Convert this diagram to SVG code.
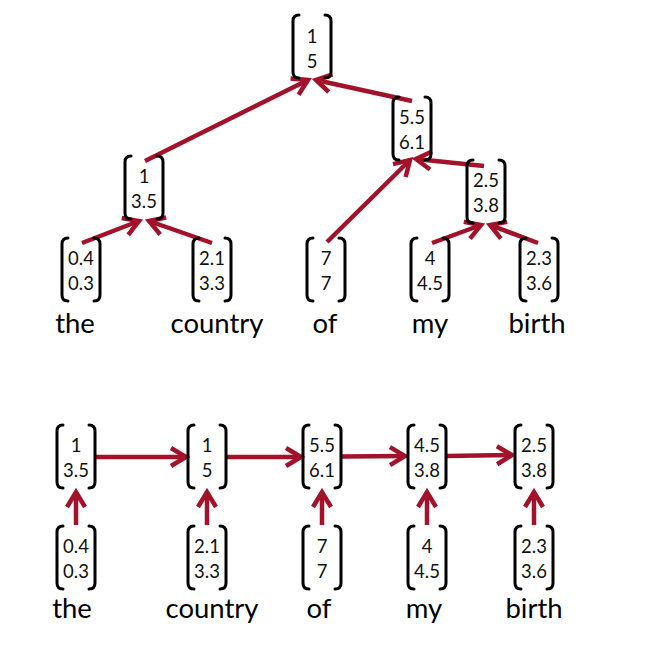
<svg xmlns="http://www.w3.org/2000/svg" xmlns:xlink="http://www.w3.org/1999/xlink" width="653" height="647" viewBox="0 0 653 647">
<style>
.br{fill:none;stroke:#000;stroke-width:3;stroke-linecap:round;stroke-linejoin:round}
.num{font-family:Lato,"Liberation Sans",sans-serif;font-size:18.5px;fill:#111;text-anchor:middle}
.word{font-family:Lato,"Liberation Sans",sans-serif;font-size:27.5px;fill:#000;text-anchor:middle}
.ar{stroke:#A3122B;stroke-width:4.5;fill:none;marker-end:url(#ah)}
</style>
<defs>
<marker id="ah" markerUnits="userSpaceOnUse" viewBox="-20 -14 24 28" markerWidth="24" markerHeight="28" refX="0" refY="0" orient="auto" overflow="visible">
<path d="M -15 -9 L 0 0 L -15 9" fill="none" stroke="#A3122B" stroke-width="4.5" stroke-linecap="butt" stroke-linejoin="miter"/>
</marker>
<path id="vec" class="br" d="M -13 0 Q -19 0 -19 6 L -19 57 Q -19 63 -13 63 M 13 0 Q 19 0 19 6 L 19 57 Q 19 63 13 63"/>
</defs>
<rect width="653" height="647" fill="#fff"/>
<g id="connectors">
<line class="ar" x1="82" y1="243" x2="139" y2="221"/>
<line class="ar" x1="212" y1="243" x2="149" y2="221"/>
<line class="ar" x1="145" y1="161" x2="308" y2="80"/>
<line class="ar" x1="412" y1="101" x2="316" y2="80"/>
<line class="ar" x1="484" y1="166" x2="416" y2="159"/>
<line class="ar" x1="327" y1="242" x2="410" y2="160"/>
<line class="ar" x1="432" y1="243" x2="481" y2="225"/>
<line class="ar" x1="538" y1="243" x2="490" y2="225"/>
<line class="ar" x1="95" y1="457" x2="186" y2="457"/>
<line class="ar" x1="226" y1="457" x2="301" y2="457"/>
<line class="ar" x1="342" y1="456.5" x2="405" y2="456"/>
<line class="ar" x1="447" y1="456" x2="512" y2="455"/>
<line class="ar" x1="76" y1="525" x2="76" y2="492"/>
<line class="ar" x1="207" y1="525" x2="207" y2="492"/>
<line class="ar" x1="322" y1="525" x2="322" y2="492"/>
<line class="ar" x1="427" y1="525" x2="427" y2="492"/>
<line class="ar" x1="534" y1="525" x2="534" y2="492"/>
</g>
<g id="t-root" transform="translate(312,15)"><use xlink:href="#vec"/><text class="num" x="0" y="28">1</text><text class="num" x="0" y="53">5</text></g>
<g id="t-of-my-birth" transform="translate(412,97)"><use xlink:href="#vec"/><text class="num" x="0" y="27">5.5</text><text class="num" x="0" y="52">6.1</text></g>
<g id="t-my-birth" transform="translate(486,160)"><use xlink:href="#vec"/><text class="num" x="0" y="27">2.5</text><text class="num" x="0" y="52">3.8</text></g>
<g id="t-the-country" transform="translate(144,156)"><use xlink:href="#vec"/><text class="num" x="0" y="27">1</text><text class="num" x="0" y="52">3.5</text></g>
<g id="t-the" transform="translate(81,238)"><use xlink:href="#vec"/><text class="num" x="0" y="27">0.4</text><text class="num" x="0" y="52">0.3</text><text class="word" x="-6" y="95">the</text></g>
<g id="t-country" transform="translate(212,238)"><use xlink:href="#vec"/><text class="num" x="0" y="27">2.1</text><text class="num" x="0" y="52">3.3</text><text class="word" x="5" y="95">country</text></g>
<g id="t-of" transform="translate(326,238)"><use xlink:href="#vec"/><text class="num" x="0" y="27">7</text><text class="num" x="0" y="52">7</text><text class="word" x="-1" y="95">of</text></g>
<g id="t-my" transform="translate(430,238)"><use xlink:href="#vec"/><text class="num" x="0" y="27">4</text><text class="num" x="0" y="52">4.5</text><text class="word" x="0" y="95">my</text></g>
<g id="t-birth" transform="translate(539,238)"><use xlink:href="#vec"/><text class="num" x="0" y="27">2.3</text><text class="num" x="0" y="52">3.6</text><text class="word" x="-2" y="95">birth</text></g>
<g id="r-h1" transform="translate(76,425)"><use xlink:href="#vec"/><text class="num" x="0" y="27">1</text><text class="num" x="0" y="52">3.5</text></g>
<g id="r-h2" transform="translate(207,425)"><use xlink:href="#vec"/><text class="num" x="0" y="27">1</text><text class="num" x="0" y="52">5</text></g>
<g id="r-h3" transform="translate(322,425)"><use xlink:href="#vec"/><text class="num" x="0" y="27">5.5</text><text class="num" x="0" y="52">6.1</text></g>
<g id="r-h4" transform="translate(427,425)"><use xlink:href="#vec"/><text class="num" x="0" y="27">4.5</text><text class="num" x="0" y="52">3.8</text></g>
<g id="r-h5" transform="translate(534,425)"><use xlink:href="#vec"/><text class="num" x="0" y="27">2.5</text><text class="num" x="0" y="52">3.8</text></g>
<g id="r-the" transform="translate(76,526)"><use xlink:href="#vec"/><text class="num" x="0" y="27">0.4</text><text class="num" x="0" y="52">0.3</text><text class="word" x="-4" y="92">the</text></g>
<g id="r-country" transform="translate(207,526)"><use xlink:href="#vec"/><text class="num" x="0" y="27">2.1</text><text class="num" x="0" y="52">3.3</text><text class="word" x="5" y="92">country</text></g>
<g id="r-of" transform="translate(322,526)"><use xlink:href="#vec"/><text class="num" x="0" y="27">7</text><text class="num" x="0" y="52">7</text><text class="word" x="-3" y="92">of</text></g>
<g id="r-my" transform="translate(427,526)"><use xlink:href="#vec"/><text class="num" x="0" y="27">4</text><text class="num" x="0" y="52">4.5</text><text class="word" x="-3" y="92">my</text></g>
<g id="r-birth" transform="translate(534,526)"><use xlink:href="#vec"/><text class="num" x="0" y="27">2.3</text><text class="num" x="0" y="52">3.6</text><text class="word" x="0" y="92">birth</text></g>
</svg>
